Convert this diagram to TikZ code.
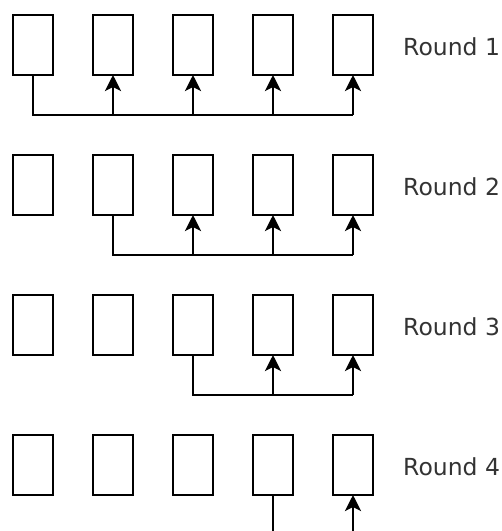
\documentclass[tikz,border=0pt]{standalone}
\usepackage{fontspec}
\setmainfont{DejaVu Sans}
\usetikzlibrary{arrows.meta}
\definecolor{txtgray}{HTML}{333333}
\tikzset{
  cell/.style={draw=black, line width=2.8pt, fill=white, minimum width=40pt, minimum height=60pt, inner sep=0pt, outer sep=0pt},
  bus/.style={draw=black, line width=2.8pt},
  busarrow/.style={bus, -{Stealth[length=16pt,width=16pt,inset=4pt]}},
  roundlbl/.style={anchor=base west, inner sep=0pt, text=txtgray, font=\fontsize{23.5pt}{28pt}\selectfont}
}
\begin{document}
\begin{tikzpicture}[x=1pt,y=-1pt]
\useasboundingbox (0,0) rectangle (502,531);
\begin{scope}
\clip (0,0) rectangle (502,531);
\foreach \r in {1,2,3,4}{
  \foreach \c in {1,...,5}{
    \node[cell] (b\r\c) at ({33+80*(\c-1)}, {45+140*(\r-1)}) {};
  }
  \node[roundlbl] (lbl\r) at (403, {55+140*(\r-1)}) {Round \r};
}
% Round 1: from b11 to b12..b15
\coordinate (y1) at (0,115);
\draw[bus] (b11.south) -- (b11.south |- y1) -- (b15.south |- y1);
\foreach \c in {2,3,4,5}{
  \draw[busarrow] (b1\c.south |- y1) -- (b1\c.south);
}
% Round 2
\coordinate (y2) at (0,255);
\draw[bus] (b22.south) -- (b22.south |- y2) -- (b25.south |- y2);
\foreach \c in {3,4,5}{
  \draw[busarrow] (b2\c.south |- y2) -- (b2\c.south);
}
% Round 3
\coordinate (y3) at (0,395);
\draw[bus] (b33.south) -- (b33.south |- y3) -- (b35.south |- y3);
\foreach \c in {4,5}{
  \draw[busarrow] (b3\c.south |- y3) -- (b3\c.south);
}
% Round 4 (bus below the picture's edge)
\coordinate (y4) at (0,535);
\draw[bus] (b44.south) -- (b44.south |- y4) -- (b45.south |- y4);
\draw[busarrow] (b45.south |- y4) -- (b45.south);
\end{scope}
\end{tikzpicture}
\end{document}
